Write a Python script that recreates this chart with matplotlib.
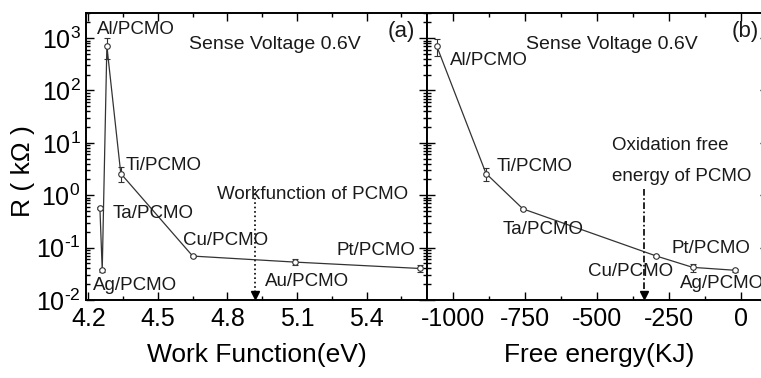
import numpy as np
import matplotlib
matplotlib.use("Agg")
import matplotlib.pyplot as plt
from matplotlib.ticker import MultipleLocator, LogLocator, NullFormatter, FuncFormatter

plt.rcParams['font.family'] = ['Liberation Sans', 'DejaVu Sans']
plt.rcParams['mathtext.fontset'] = 'custom'
plt.rcParams['mathtext.rm'] = 'Liberation Sans'
plt.rcParams['mathtext.it'] = 'Liberation Sans:italic'
plt.rcParams['mathtext.bf'] = 'Liberation Sans:bold'
plt.rcParams['axes.unicode_minus'] = False

# electrode / PCMO contacts, sorted along each x axis
wf_names = ["Ta/PCMO", "Ag/PCMO", "Al/PCMO", "Ti/PCMO", "Cu/PCMO", "Au/PCMO", "Pt/PCMO"]
work_func = [4.25, 4.26, 4.28, 4.34, 4.65, 5.09, 5.63]
r_wf = [0.57, 0.037, 700, 2.6, 0.069, 0.053, 0.040]
r_wf_err = [0.03, 0.002, 300, 0.8, 0.004, 0.007, 0.006]

fe_names = ["Al/PCMO", "Ti/PCMO", "Ta/PCMO", "Cu/PCMO", "Pt/PCMO", "Ag/PCMO"]
free_energy = [-1056, -885, -757, -293, -167, -21]
r_fe = [700, 2.6, 0.55, 0.069, 0.042, 0.037]
r_fe_err = [250, 0.7, 0.03, 0.004, 0.007, 0.002]

wf_pcmo = 4.92       # workfunction of PCMO (eV)
fe_pcmo = -335       # oxidation free energy of PCMO (KJ)

fig = plt.figure(figsize=(7.61, 3.78), dpi=100)
ax1 = fig.add_axes([0.113, 0.2063, 0.448, 0.759])
ax2 = fig.add_axes([0.5611, 0.2063, 0.448, 0.759])

line_kw = dict(color="#333333", lw=0.9, marker="o", ms=4, mfc="white",
               mec="#333333", mew=0.8, ecolor="#333333", elinewidth=0.8,
               capsize=2, capthick=0.8)

ax1.errorbar(work_func, r_wf, yerr=r_wf_err, **line_kw)
ax2.errorbar(free_energy, r_fe, yerr=r_fe_err, **line_kw)


def pow10(v, pos):
    # short hyphen in the exponent instead of the mathtext minus
    e = int(round(np.log10(v)))
    s = str(e).replace("-", "\u2010")
    return "10$^{%s}$" % s


for ax in (ax1, ax2):
    ax.set_yscale("log")
    ax.set_ylim(0.01, 3000)
    ax.yaxis.set_major_locator(LogLocator(base=10, numticks=10))
    ax.yaxis.set_major_formatter(FuncFormatter(pow10))
    ax.yaxis.set_minor_locator(LogLocator(base=10, subs=np.arange(2, 10), numticks=10))
    ax.yaxis.set_minor_formatter(NullFormatter())
    ax.tick_params(which="both", direction="in", top=True, right=True, width=1.0)
    ax.tick_params(which="major", length=6, labelsize=18, pad=5)
    ax.tick_params(which="minor", length=3)
    for s in ax.spines.values():
        s.set_linewidth(1.4)

ax1.set_xlim(4.19, 5.66)
ax1.xaxis.set_major_locator(MultipleLocator(0.3))
ax1.xaxis.set_minor_locator(MultipleLocator(0.15))
ax1.tick_params(axis="y", pad=4)

ax2.set_xlim(-1090, 94)
ax2.xaxis.set_major_locator(MultipleLocator(250))
ax2.xaxis.set_minor_locator(MultipleLocator(125))
ax2.tick_params(axis="y", labelleft=False)

ax1.set_xlabel("Work Function(eV)", fontsize=19)
ax2.set_xlabel("Free energy(KJ)", fontsize=19)
ax1.xaxis.set_label_coords(0.5, -0.150)
ax2.xaxis.set_label_coords(0.504, -0.150)
ax1.set_ylabel("R ( k\u03a9 )", fontsize=19)
ax1.yaxis.set_label_coords(-0.15, 0.45)

# reference markers for PCMO
ax1.plot([wf_pcmo, wf_pcmo], [1.3, 0.0125], ls=":", color="black", lw=1.2)
ax1.plot([wf_pcmo], [0.0122], marker="v", color="black", ms=6, clip_on=False)
ax2.plot([fe_pcmo, fe_pcmo], [1.3, 0.0125], ls=(0, (4, 1.5, 1, 1.5)), color="black", lw=1.2)
ax2.plot([fe_pcmo], [0.0122], marker="v", color="black", ms=6, clip_on=False)


def label(ax, x, y, s, ha="center", size=13.5):
    ax.text(x, y, s, transform=ax.transAxes, ha=ha, va="center",
            fontsize=size, color="#1a1a1a")


label(ax1, 0.147, 0.944, "Al/PCMO")
label(ax1, 0.554, 0.892, "Sense Voltage 0.6V", size=14)
label(ax1, 0.924, 0.937, "(a)", size=16)
label(ax1, 0.229, 0.470, "Ti/PCMO")
label(ax1, 0.197, 0.303, "Ta/PCMO")
label(ax1, 0.408, 0.206, "Cu/PCMO")
label(ax1, 0.384, 0.369, "Workfunction of PCMO", ha="left")
label(ax1, 0.144, 0.049, "Ag/PCMO")
label(ax1, 0.648, 0.066, "Au/PCMO")
label(ax1, 0.736, 0.174, "Pt/PCMO", ha="left")

label(ax2, 0.182, 0.836, "Al/PCMO")
label(ax2, 0.543, 0.892, "Sense Voltage 0.6V", size=14)
label(ax2, 0.894, 0.937, "(b)", ha="left", size=16)
label(ax2, 0.317, 0.467, "Ti/PCMO")
label(ax2, 0.543, 0.537, "Oxidation free", ha="left")
label(ax2, 0.543, 0.429, "energy of PCMO", ha="left")
label(ax2, 0.340, 0.247, "Ta/PCMO")
label(ax2, 0.598, 0.098, "Cu/PCMO")
label(ax2, 0.718, 0.181, "Pt/PCMO", ha="left")
label(ax2, 0.742, 0.056, "Ag/PCMO", ha="left")

fig.savefig("out.png", dpi=100)
